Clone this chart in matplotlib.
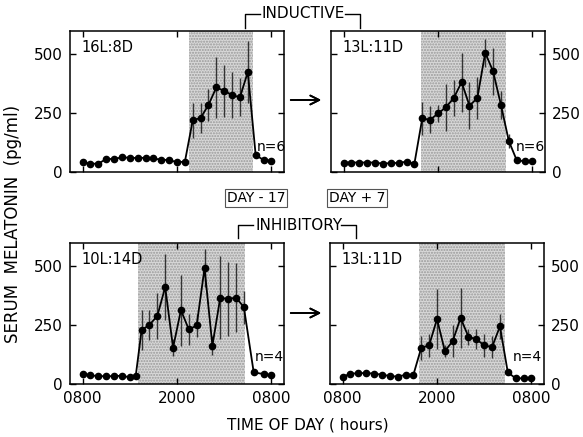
import matplotlib.pyplot as plt
from matplotlib.lines import Line2D
import numpy as np

plt.rcParams['font.family'] = ['DejaVu Sans']

W, H = 583, 437

# hours after 0800
hrs = list(range(25))
hrs_10l = [0, 1, 2, 3, 4, 5, 6, 6.75, 7.5, 8.5, 9.5, 10.5, 11.5, 12.5, 13.5,
           14.5, 15.5, 16.5, 17.5, 18.5, 19.5, 20.5, 21.75, 23, 24]

# 16L:8D, day -17, inductive
tl_mean = [42, 35, 35, 55, 55, 62, 60, 59, 60, 57, 52, 50, 42, 43,
           218, 228, 283, 357, 342, 325, 315, 422, 71, 51, 47]
tl_err = [0] * 14 + [73, 62, 66, 130, 108, 97, 80, 132, 0, 0, 0]

# 13L:11D, day +7, inductive
tr_mean = [40, 40, 40, 40, 40, 35, 38, 38, 44, 35,
           226, 220, 247, 273, 312, 379, 280, 312, 503, 425, 283, 131, 50, 45, 48]
tr_err = [0] * 10 + [68, 57, 36, 100, 75, 125, 100, 90, 60, 100, 60, 30, 0, 0, 0]

# 10L:14D, day -17, inhibitory
bl_mean = [44, 37, 33, 33, 33, 35, 28, 33,
           227, 250, 287, 409, 153, 312, 230, 247, 489, 162, 365, 358, 365, 324,
           49, 42, 37]
bl_err = [0] * 8 + [85, 64, 95, 140, 35, 150, 65, 50, 80, 40, 175, 155, 145, 70,
                    0, 0, 0]

# 13L:11D, day +7, inhibitory
br_mean = [31, 43, 46, 46, 44, 39, 34, 31, 39, 39,
           153, 163, 274, 139, 181, 279, 199, 189, 163, 156, 243, 49, 24, 24, 24]
br_err = [0] * 10 + [50, 47, 125, 25, 67, 125, 33, 42, 50, 47, 53, 0, 0, 0, 0]

panels = [
    # x0, y0 (px), hours, mean, err, dark start, dark end, photoperiod, n, n pos, side, xlabels
    (70, 31, hrs, tl_mean, tl_err, 13.5, 21.6, '16L:8D', 'n=6', (0.94, 0.18), 'left', False),
    (331, 31, hrs, tr_mean, tr_err, 9.8, 20.7, '13L:11D', 'n=6', (0.93, 0.18), 'right', False),
    (70, 243, hrs_10l, bl_mean, bl_err, 7.1, 20.7, '10L:14D', 'n=4', (0.93, 0.19), 'left', True),
    (330, 243, hrs, br_mean, br_err, 9.7, 20.6, '13L:11D', 'n=4', (0.92, 0.19), 'right', True),
]

fig = plt.figure(figsize=(W / 100, H / 100), dpi=100)


def fx(x):
    return x / W


def fy(y):
    return 1 - y / H


for x0, y0, h, m, e, d0, d1, lab, n, npos, side, xlab in panels:
    ax = fig.add_axes([fx(x0), fy(y0 + 141), 214 / W, 141 / H])
    ax.axvspan(d0, d1, facecolor='#d8d8d8', edgecolor='#999999', hatch='......', lw=0)
    err = np.array(e)
    ax.errorbar(h, m, yerr=np.where(err > 0, err, np.nan), fmt='o-', color='black',
                ms=4.5, lw=1.3, ecolor='#333333', elinewidth=1.0, capsize=0)
    ax.set_xlim(-1.6, 25.6)
    ax.set_ylim(0, 595)
    ax.set_xticks([0, 12, 24])
    ax.set_yticks([0, 250, 500])
    ax.tick_params(direction='in', top=True, right=True, length=4, width=1,
                   labelsize=11, pad=5)
    if side == 'right':
        ax.tick_params(labelleft=False, labelright=True)
    if xlab:
        ax.set_xticklabels(['0800', '2000', '0800'])
    else:
        ax.set_xticklabels([])
    for s in ax.spines.values():
        s.set_linewidth(1.1)
    ax.text(0.055, 0.88, lab, transform=ax.transAxes, fontsize=10.5, va='center')
    ax.text(npos[0], npos[1], n, transform=ax.transAxes, fontsize=10,
            va='center', ha='center')

# arrows between panels
for yy in (100, 313):
    fig.add_artist(plt.annotate('', xy=(fx(324), fy(yy)), xytext=(fx(288), fy(yy)),
                                xycoords='figure fraction',
                                arrowprops=dict(arrowstyle='->', lw=1.3,
                                                mutation_scale=16, color='black')))


def bracket(label, xl, xr, ytop, ybot, xc):
    fig.text(fx(xc), fy(ytop), label, ha='center', va='center', fontsize=11)
    fig.add_artist(Line2D([fx(xl), fx(xl), fx(xl + 15)], [fy(ybot), fy(ytop), fy(ytop)],
                          color='black', lw=1))
    fig.add_artist(Line2D([fx(xr - 15), fx(xr), fx(xr)], [fy(ytop), fy(ytop), fy(ybot)],
                          color='black', lw=1))


bracket('INDUCTIVE', 245, 360, 14, 28, 303)
bracket('INHIBITORY', 238, 356, 225, 238, 299)

for txt, xc in (('DAY - 17', 256), ('DAY + 7', 357)):
    fig.text(fx(xc), fy(198), txt, ha='center', va='center', fontsize=10,
             bbox=dict(boxstyle='square,pad=0.15', fc='white', ec='#555555', lw=0.8))

fig.text(fx(13), fy(224), 'SERUM  MELATONIN  (pg/ml)', rotation=90, ha='center',
         va='center', fontsize=12)
fig.text(fx(308), fy(425), 'TIME OF DAY ( hours)', ha='center', va='center', fontsize=11)

fig.savefig('out.png', dpi=100)
